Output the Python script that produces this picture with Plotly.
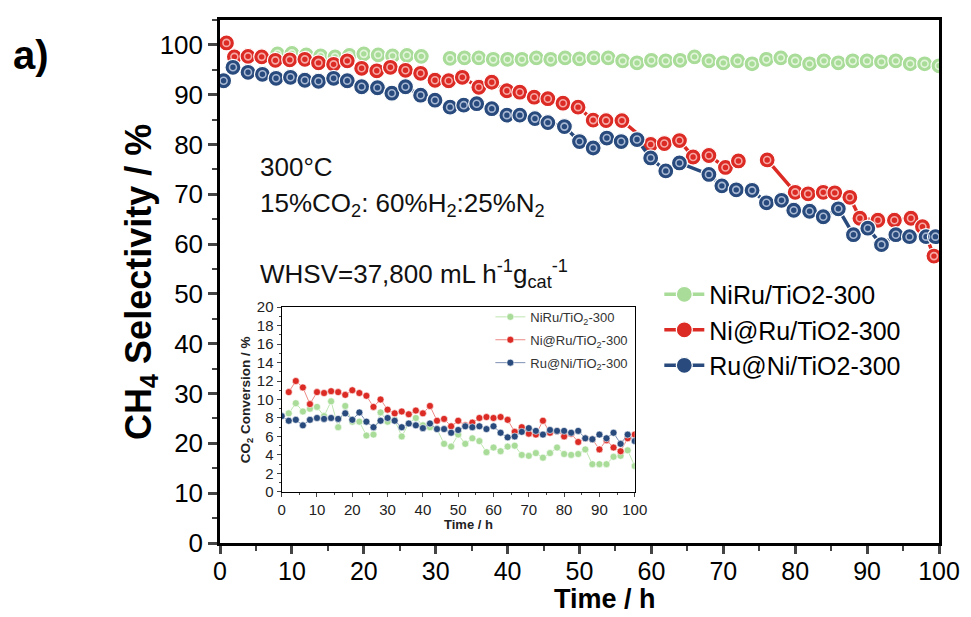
import plotly.graph_objects as go

# ---------------- main panel data (CH4 selectivity) ----------------
names_main = ["NiRu/TiO2-300", "Ni@Ru/TiO2-300", "Ru@Ni/TiO2-300"]

green_x = [8, 10, 12, 14, 16, 18, 20, 22, 24, 26, 28, None,
           32, 34, 36, 38, 40, 42, 44, 46, 48, 50, 52, 54, 56, 58, 60, 62, 64, 66, 68, 70,
           72, 74, 76, 78, 80, 82, 84, 86, 88, 90, 92, 94, 96, 98, 100]
green_y = [98.2, 98.3, 98.0, 97.8, 97.6, 97.9, 98.2, 98.0, 97.8, 97.9, 97.7, None,
           97.3, 97.4, 97.4, 97.1, 97.1, 97.1, 97.4, 97.1, 97.4, 97.2, 97.4, 97.4, 96.8, 96.4, 96.9, 96.8,
           96.9, 97.6, 96.8, 96.4, 96.8, 96.2, 97.1, 97.4, 96.8, 96.2, 96.8, 96.4, 96.8, 96.8, 96.6, 96.8,
           96.2, 96.2, 95.8]

red_x = [0.9, 2, 3.9, 5.8, 7.7, 9.7, 11.8, 13.7, 15.8, 17.7, 19.7, 21.8, 23.7, 25.8, 27.9, 29.9,
         31.8, 33.7, 36, 37.8, 39.9, 41.7, 43.7, 45.6, 47.7, 49.8, 51.9, 53.7, 55.9, 59.9, 61.8, 63.9,
         65.8, 68, 70.3, 72.1, None, 76.1, 80, 81.8, 83.9, 85.5, 87.6, 89, 91.5, 93.8, 96.1, 97.7, 99.3]
red_y = [100.4, 97.6, 97.7, 97.6, 96.9, 97.0, 97.1, 96.4, 96.1, 96.8, 95.3, 94.8, 95.5, 94.9, 94.3, 92.9,
         92.8, 93.5, 91.5, 92.5, 90.8, 90.5, 89.5, 89.2, 88.3, 87.5, 84.9, 84.8, 84.8, 80.0, 80.2, 80.8,
         77.5, 77.8, 75.4, 76.7, None, 76.9, 70.4, 70.1, 70.4, 70.3, 69.4, 65.2, 64.8, 64.8, 65.2, 63.5, 57.6]

blue_x = [0.5, 1.8, 3.9, 5.9, 7.8, 9.8, 11.8, 13.7, 15.8, 17.7, 19.7, 21.9, 23.9, 25.8, 27.9, 29.9,
          32, 33.9, 35.7, 37.8, 39.9, 41.7, 43.8, 45.6, 47.9, 50, 51.9, 53.8, 55.8, 58, 59.9, 62,
          63.9, 68, 69.8, 71.8, 74, 76, 78.1, 79.8, 82, 83.9, 86, 88.1, 90.1, 92, 94, 95.9, 98.2, 99.5]
blue_y = [92.8, 95.5, 94.5, 94.1, 93.3, 93.5, 92.9, 92.7, 93.3, 92.8, 91.6, 91.4, 90.3, 91.6, 89.9, 88.9,
          87.5, 87.9, 88.2, 87.2, 85.9, 85.9, 85.2, 84.4, 83.6, 80.6, 79.3, 81.3, 80.6, 81.0, 77.3, 74.7,
          76.3, 74.0, 71.7, 70.9, 70.8, 68.3, 68.8, 66.8, 66.6, 65.5, 67.1, 61.9, 63.2, 59.9, 61.9, 61.5,
          61.5, 61.5]

# ---------------- inset data (CO2 conversion) ----------------
names_inset = ["NiRu/TiO<sub>2</sub>-300", "Ni@Ru/TiO<sub>2</sub>-300", "Ru@Ni/TiO<sub>2</sub>-300"]

in_green_x = list(range(2, 101, 2))
in_green_y = [8.5, 9.6, 8.7, 9.0, 9.2, 8.2, 9.8, 7.0, 9.3, 7.6, 7.6, 6.1, 6.2, 8.6, 7.6, 7.8, 6.0, 7.4,
              8.0, 7.2, 7.0, 6.8, 5.2, 4.9, 6.2, 5.2, 5.8, 5.5, 4.3, 4.8, 4.4, 4.9, 5.0, 4.0, 3.9, 4.2,
              3.7, 4.2, 4.8, 4.1, 4.0, 4.1, 4.6, 3.0, 3.0, 3.0, 3.8, 3.9, 4.5, 2.8]

in_red_x = list(range(2, 101, 2))
in_red_y = [10.8, 12.0, 11.3, 9.5, 10.8, 10.7, 10.9, 10.8, 10.5, 11.0, 10.7, 10.4, 9.2, 10.0, 8.9, 8.5,
            8.7, 8.4, 8.8, 8.5, 9.3, 7.7, 7.9, 7.1, 7.7, 7.2, 7.5, 8.0, 8.1, 8.0, 8.1, 7.8, 6.5, 7.0,
            6.3, 6.2, 7.7, 6.4, 6.6, 6.0, 6.3, 5.4, 5.8, 5.7, 4.6, 5.6, 4.8, 4.4, 5.8, 6.2]

in_blue_x = list(range(0, 101, 2))
in_blue_y = [8.2, 7.7, 7.8, 7.2, 7.8, 8.0, 7.9, 8.0, 7.9, 8.5, 7.8, 8.6, 7.6, 7.0, 7.7, 8.0, 7.7, 7.0,
             7.4, 7.2, 6.9, 7.4, 6.8, 6.8, 6.4, 6.7, 7.1, 7.0, 7.1, 6.8, 7.1, 6.4, 5.9, 6.0, 6.5, 6.9,
             6.6, 6.2, 6.7, 6.6, 6.6, 6.4, 6.6, 5.8, 5.7, 6.2, 5.8, 6.4, 5.2, 6.2, 5.5]

colors = ["#a8dc98", "#dc2a24", "#284a7c"]
ring_colors = ["#e2f5da", "#f6a9a5", "#a9b9d4"]
line_inset = ["#bfe6b2", "#ec8a86", "#7d91b5"]

main_series = [(green_x, green_y), (red_x, red_y), (blue_x, blue_y)]
inset_series = [(in_green_x, in_green_y), (in_red_x, in_red_y), (in_blue_x, in_blue_y)]

fig = go.Figure()

for i, (xs, ys) in enumerate(main_series):
    fig.add_trace(go.Scatter(
        x=xs, y=ys, name=names_main[i], mode="lines+markers",
        line=dict(color=colors[i], width=3.5),
        marker=dict(size=16, color=colors[i], line=dict(color="white", width=1.2)),
        legend="legend", xaxis="x", yaxis="y"))
    fig.add_trace(go.Scatter(
        x=xs, y=ys, mode="markers", showlegend=False, hoverinfo="skip",
        marker=dict(size=7, symbol="circle-open", color=ring_colors[i], line=dict(width=1.6)),
        xaxis="x", yaxis="y"))

for i, (xs, ys) in enumerate(inset_series):
    fig.add_trace(go.Scatter(
        x=xs, y=ys, name=names_inset[i], mode="lines+markers",
        line=dict(color=line_inset[i], width=1),
        marker=dict(size=7, color=colors[i], line=dict(color="white", width=0.6)),
        legend="legend2", legendgroup="g%d" % i, xaxis="x2", yaxis="y2"))

axis_font = dict(family="Liberation Sans, Arial, sans-serif", size=25, color="black")
inset_tick_font = dict(size=15, color="#222")

fig.update_layout(
    width=971, height=617,
    margin=dict(l=220, r=28, t=11, b=74),
    paper_bgcolor="white", plot_bgcolor="white",
    font=dict(family="Liberation Sans, Arial, sans-serif", color="black"),
    xaxis=dict(range=[0, 100], dtick=10, tick0=0, ticks="outside", ticklen=8, tickwidth=2.5,
               showline=True, linewidth=2.5, linecolor="black", mirror=True, showgrid=False,
               zeroline=False, tickfont=axis_font, ticklabelstandoff=-4,
               minor=dict(ticks="outside", ticklen=5, tickwidth=2, dtick=5, showgrid=False)),
    yaxis=dict(range=[0, 105], dtick=10, tick0=0, ticks="outside", ticklen=9, tickwidth=2.5,
               showline=True, linewidth=2.5, linecolor="black", mirror=True, showgrid=False,
               zeroline=False, tickfont=dict(axis_font, size=26),
               minor=dict(ticks="outside", ticklen=5, tickwidth=2, dtick=5, showgrid=False)),
    xaxis2=dict(domain=[0.0858, 0.5768], anchor="y2", range=[0, 100], dtick=10, ticks="outside",
                ticklen=4, tickwidth=1.2, showline=True, linewidth=1.3, linecolor="black",
                mirror=True, showgrid=False, zeroline=False, tickfont=inset_tick_font,
                minor=dict(ticks="outside", ticklen=2, dtick=5)),
    yaxis2=dict(domain=[0.0977, 0.4511], anchor="x2", range=[0, 20], dtick=2, ticks="outside",
                ticklen=4, tickwidth=1.2, showline=True, linewidth=1.3, linecolor="black",
                mirror=True, showgrid=False, zeroline=False, tickfont=inset_tick_font,
                minor=dict(ticks="outside", ticklen=2, dtick=1)),
    legend=dict(x=0.611, y=0.519, xanchor="left", yanchor="top", bgcolor="rgba(0,0,0,0)",
                font=dict(size=25, color="black"), itemwidth=40),
    legend2=dict(x=0.376, y=0.461, xanchor="left", yanchor="top", bgcolor="rgba(0,0,0,0)",
                 font=dict(size=13, color="#333"), tracegroupgap=3),
    showlegend=True,
)

ann_font = dict(size=26, color="#111")
fig.add_annotation(xref="paper", yref="paper", x=0.0526, y=0.718, xanchor="left", yanchor="middle",
                   text="300°C", showarrow=False, font=ann_font)
fig.add_annotation(xref="paper", yref="paper", x=0.0526, y=0.648, xanchor="left", yanchor="middle",
                   text="15%CO<sub>2</sub>: 60%H<sub>2</sub>:25%N<sub>2</sub>", showarrow=False, font=ann_font)
fig.add_annotation(xref="paper", yref="paper", x=0.0526, y=0.515, xanchor="left", yanchor="middle",
                   text="WHSV=37,800 mL h<sup>-1</sup>g<sub>cat</sub><sup>-1</sup>", showarrow=False, font=ann_font)
fig.add_annotation(xref="paper", yref="paper", x=-0.2905, y=0.934, xanchor="left", yanchor="middle",
                   text="<b>a)</b>", showarrow=False, font=dict(size=40, color="black"))
fig.add_annotation(xref="paper", yref="paper", x=-0.1107, y=0.5, xanchor="center", yanchor="middle",
                   text="<b>CH<sub>4</sub> Selectivity / %</b>", textangle=-90, showarrow=False,
                   font=dict(size=36, color="black"))
fig.add_annotation(xref="paper", yref="paper", x=0.535, y=-0.1385, xanchor="center", yanchor="bottom",
                   text="<b>Time / h</b>", showarrow=False, font=dict(size=27, color="black"),
                   borderpad=0)
fig.add_annotation(xref="paper", yref="paper", x=0.345, y=0.0357, xanchor="center", yanchor="middle",
                   text="<b>Time / h</b>", showarrow=False, font=dict(size=13, color="#222"))
fig.add_annotation(xref="paper", yref="paper", x=0.0373, y=0.2744, xanchor="center", yanchor="middle",
                   text="<b>CO<sub>2</sub> Conversion / %</b>", textangle=-90, showarrow=False,
                   font=dict(size=13.5, color="#222"))

fig.write_html("out.html")
